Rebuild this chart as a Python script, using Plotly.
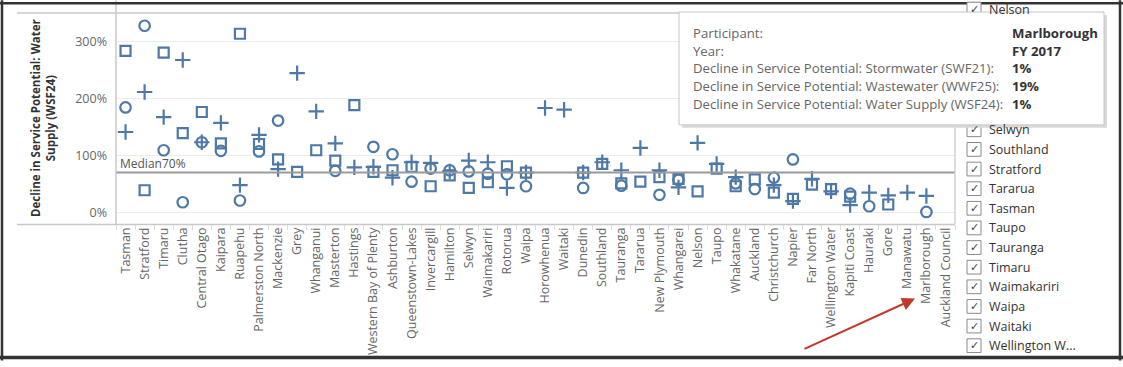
import plotly.graph_objects as go

categories = ["Tasman", "Stratford", "Timaru", "Clutha", "Central Otago", "Kaipara", "Ruapehu",
              "Palmerston North", "Mackenzie", "Grey", "Whanganui", "Masterton", "Hastings",
              "Western Bay of Plenty", "Ashburton", "Queenstown-Lakes", "Invercargill", "Hamilton",
              "Selwyn", "Waimakariri", "Rotorua", "Waipa", "Horowhenua", "Waitaki", "Dunedin",
              "Southland", "Tauranga", "Tararua", "New Plymouth", "Whangarei", "Nelson", "Taupo",
              "Whakatane", "Auckland", "Christchurch", "Napier", "Far North", "Wellington Water",
              "Kapiti Coast", "Hauraki", "Gore", "Manawatu", "Marlborough", "Auckland Council"]

# Decline in Service Potential: Water Supply (WSF24), %
fy2017 = [184, 327, 109, 18, 123, 108, 21, 107, 161, None, None, 73, None, 115, 102, 54, 77, 74,
          72, 68, 67, 46, None, None, 43, None, 47, None, 31, 57, None, None, 51, 41, 61, 93,
          None, None, 33, 11, None, None, 1, None]
fy2018 = [283, 39, 280, 139, 176, 121, 313, 120, 93, 71, 109, 91, 188, 71, 74, 80, 46, 65,
          43, 53, 81, 70, None, None, 70, 85, 51, 54, 62, 59, 37, 77, 46, 58, 35, 24,
          49, 41, 28, None, 14, None, None, None]
fy2019 = [141, 211, 167, 267, 123, 157, 48, 136, 76, 244, 177, 121, 79, 80, 61, 88, 87, 72,
          91, 88, 43, 70, 183, 180, 70, 88, 74, 113, 74, 44, 122, 85, 62, None, 48, 20,
          59, 37, 13, 35, 30, 35, 29, None]
median_value = 70
y_ticks = [0, 100, 200, 300]
y_tick_labels = ["0%", "100%", "200%", "300%"]

filter_items = [("Nelson", 9), ("Selwyn", 132), ("Southland", 152), ("Stratford", 172),
                ("Tararua", 192), ("Tasman", 212), ("Taupo", 232), ("Tauranga", 252),
                ("Timaru", 272), ("Waimakariri", 292), ("Waipa", 312), ("Waitaki", 332),
                ("Wellington W...", 352)]

tooltip_rows = [("Participant:", "Marlborough"), ("Year:", "FY 2017"),
                ("Decline in Service Potential: Stormwater (SWF21):", "1%"),
                ("Decline in Service Potential: Wastewater (WWF25):", "19%"),
                ("Decline in Service Potential: Water Supply (WSF24):", "1%")]

W, H = 1123, 367
L, R, T, B = 116, 955, 13, 228
FONT = "Open Sans"
BLUE = "#4e79a7"


def px(x):
    return (x - L) / (R - L)


def py(y):
    return (B - y) / (B - T)


fig = go.Figure()
for name, vals, sym, size in [("FY 2017", fy2017, "circle-open", 10.5),
                              ("FY 2018", fy2018, "square-open", 10),
                              ("FY 2019", fy2019, "cross-thin-open", 11)]:
    fig.add_trace(go.Scatter(
        x=categories, y=vals, mode="markers", name=name,
        marker=dict(symbol=sym, size=size, color=BLUE, line=dict(color=BLUE, width=2.2)),
    ))

shapes = []
annotations = []

# zero dotted line and median line
shapes.append(dict(type="line", xref="paper", yref="y", x0=0, x1=1, y0=0, y1=0,
                   line=dict(color="#b5b5b5", width=1, dash="dot"), layer="below"))
shapes.append(dict(type="line", xref="paper", yref="y", x0=0, x1=1, y0=median_value,
                   y1=median_value, line=dict(color="#9a9a9a", width=2), layer="above"))
annotations.append(dict(xref="paper", yref="y", x=px(118), y=median_value, yshift=9,
                        text=f"Median{median_value}%", showarrow=False, xanchor="left",
                        yanchor="middle", font=dict(family=FONT, size=12, color="#555")))


def hline(x0, x1, y, color, width):
    shapes.append(dict(type="line", xref="paper", yref="paper", x0=px(x0), x1=px(x1),
                       y0=py(y), y1=py(y), line=dict(color=color, width=width)))


def vline(x, y0, y1, color, width):
    shapes.append(dict(type="line", xref="paper", yref="paper", x0=px(x), x1=px(x),
                       y0=py(y0), y1=py(y1), line=dict(color=color, width=width)))


# plot frame lines
hline(17, 955, 13, "#c8c8c8", 1.5)
hline(17, 955, 228.5, "#c8c8c8", 1.5)
vline(116, 0, 228, "#c8c8c8", 1.5)
vline(955, 13, 228, "#d0d0d0", 1.5)

# dashboard border
hline(0, 1123, 3, "#333333", 2.5)
hline(0, 1123, 364, "#333333", 3.5)
vline(2, 0, 367, "#333333", 2.5)
vline(1120, 0, 367, "#333333", 2.5)

# y-axis title
annotations.append(dict(xref="paper", yref="paper", x=px(43), y=py(120),
                        text="<b>Decline in Service Potential: Water<br>Supply (WSF24)</b>",
                        textangle=-90, showarrow=False, xanchor="center", yanchor="middle",
                        font=dict(family=FONT, size=11.5, color="#333")))

# filter checklist
for label, yc in filter_items:
    shapes.append(dict(type="rect", xref="paper", yref="paper", x0=px(967), x1=px(981),
                       y0=py(yc - 7), y1=py(yc + 7), line=dict(color="#8a8a8a", width=1),
                       fillcolor="white"))
    annotations.append(dict(xref="paper", yref="paper", x=px(974), y=py(yc), text="✓",
                            showarrow=False, xanchor="center", yanchor="middle",
                            font=dict(family="DejaVu Sans", size=11, color="#444")))
    annotations.append(dict(xref="paper", yref="paper", x=px(987), y=py(yc), text=label,
                            showarrow=False, xanchor="left", yanchor="middle",
                            font=dict(family=FONT, size=12.5, color="#333")))

# tooltip box
shapes.append(dict(type="rect", xref="paper", yref="paper", x0=px(682), x1=px(1107),
                   y0=py(130), y1=py(15), line=dict(width=0), fillcolor="#d9d9d9",
                   layer="above"))
shapes.append(dict(type="rect", xref="paper", yref="paper", x0=px(679), x1=px(1104),
                   y0=py(127), y1=py(12), line=dict(color="#c6c6c6", width=1),
                   fillcolor="white", layer="above"))
for i, (lab, val) in enumerate(tooltip_rows):
    yc = 33.3 + i * 18.1
    annotations.append(dict(xref="paper", yref="paper", x=px(691), y=py(yc), text=lab,
                            showarrow=False, xanchor="left", yanchor="middle",
                            font=dict(family=FONT, size=13.2, color="#666")))
    annotations.append(dict(xref="paper", yref="paper", x=px(1010), y=py(yc),
                            text=f"<b>{val}</b>", showarrow=False, xanchor="left",
                            yanchor="middle", font=dict(family=FONT, size=13.2, color="#333")))

# red arrow
annotations.append(dict(xref="paper", yref="paper", x=px(915), y=py(304), text="",
                        showarrow=True, ax=-112, ay=51, arrowhead=2, arrowsize=1.3,
                        arrowwidth=2, arrowcolor="#c0392b", standoff=0, startstandoff=0))

fig.update_layout(
    width=W, height=H,
    margin=dict(l=L, r=W - R, t=T, b=H - B, pad=0),
    paper_bgcolor="white", plot_bgcolor="white",
    showlegend=False,
    font=dict(family=FONT, color="#666"),
    shapes=shapes, annotations=annotations,
    xaxis=dict(type="category", categoryorder="array", categoryarray=categories,
               range=[-0.5, len(categories) - 0.5], tickangle=-90, showgrid=False,
               ticks="outside", tickson="boundaries", ticklen=5, tickcolor="#dddddd",
               tickfont=dict(family=FONT, size=12.5, color="#666"), showline=False,
               zeroline=False, fixedrange=True),
    yaxis=dict(range=[-20.1, 349.3], tickmode="array", tickvals=y_ticks,
               ticktext=y_tick_labels,
               showgrid=True, gridcolor="#ececec", gridwidth=1, zeroline=False,
               showline=False, ticks="", tickfont=dict(family=FONT, size=12.5, color="#666"),
               ticklabelstandoff=8, fixedrange=True),
)

fig.write_html("out.html", config={"displayModeBar": False},
               post_script="document.body.style.margin='0';document.body.style.overflow='hidden';")
